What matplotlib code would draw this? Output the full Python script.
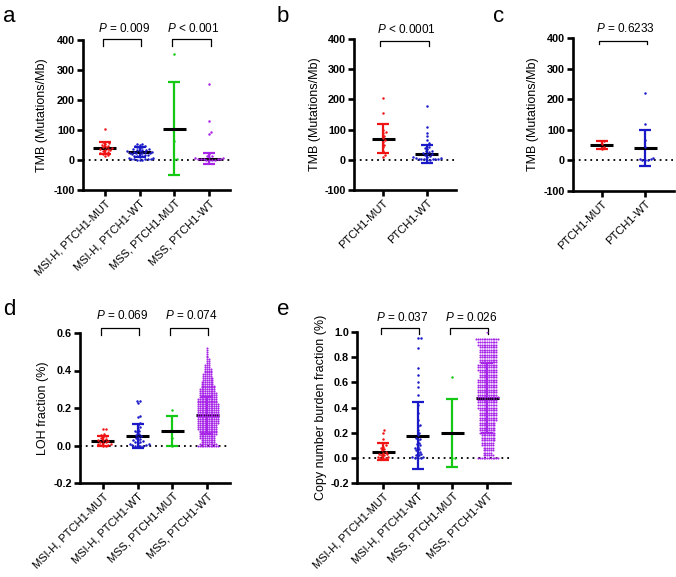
import numpy as np
import matplotlib
matplotlib.use("Agg")
import matplotlib.pyplot as plt
from matplotlib.transforms import blended_transform_factory

plt.rcParams['font.family'] = ['Liberation Sans', 'DejaVu Sans']
plt.rcParams['mathtext.fontset'] = 'custom'
plt.rcParams['mathtext.rm'] = 'Liberation Sans'
plt.rcParams['mathtext.it'] = 'Liberation Sans:italic'

RED, BLUE, GREEN, PURPLE = '#f01414', '#1a1ac8', '#14c814', '#a826e8'

groups4 = ["MSI-H, PTCH1-MUT", "MSI-H, PTCH1-WT", "MSS, PTCH1-MUT", "MSS, PTCH1-WT"]
groups2 = ["PTCH1-MUT", "PTCH1-WT"]

# ---- panel a : TMB by MSI status and PTCH1
a_msi_mut = [105, 60, 57, 55, 50, 48, 45, 42, 40, 38, 36, 35, 33, 30, 28, 25, 22, 20, 18, 15]
a_msi_wt = [55, 53, 50, 48, 46, 44, 42, 40, 38, 36, 35, 33, 32, 30, 30, 28, 27, 26, 25, 24,
            23, 22, 20, 20, 18, 17, 15, 14, 12, 10, 8, 6, 5, 4, 3, 2, 2, 1, 1, 0]
a_mss_mut = [352, 3, 2, 63]
a_mss_wt = [252, 130, 95, 88, 20, 15, 12, 10, 8, 6, 5, 4, 3, 2, 2, 1, 1, 0, 0]
a_mean = [39, 26, 105, 5]
a_sd = [20, 16, 155, 17]

# ---- panel b : TMB, all
b_mut = [203, 155, 100, 92, 88, 80, 72, 65, 58, 50, 42, 30, 15, 10]
b_wt = [178, 110, 90, 78, 65, 55, 48, 42, 38, 35, 30, 28, 25, 22, 20, 18, 15, 12, 10, 8,
        6, 5, 4, 3, 2, 2, 1, 1, 0, 0]
b_mean = [70, 18]
b_sd = [47, 30]

# ---- panel c : TMB, subgroup
c_mut = [62, 55, 45, 38]
c_wt = [220, 118, 68, 45, 8, 5, 3, 2, 1, 0]
c_mean = [51, 40]
c_sd = [13, 59]

# ---- panel d : LOH fraction
d_msi_mut = [0.09, 0.088, 0.06, 0.055, 0.05, 0.045, 0.04, 0.035, 0.03, 0.03, 0.025, 0.02,
             0.02, 0.015, 0.01, 0.01, 0.005, 0.005, 0.0, 0.0]
d_msi_wt = [0.24, 0.235, 0.225, 0.16, 0.15, 0.12, 0.11, 0.10, 0.09, 0.08, 0.075, 0.07, 0.06,
            0.055, 0.05, 0.045, 0.04, 0.035, 0.03, 0.03, 0.025, 0.02, 0.02, 0.015, 0.01,
            0.01, 0.005, 0.005, 0.0, 0.0, 0.0, 0.0]
d_mss_mut = [0.187, 0.0, 0.04]
# MSS, PTCH1-WT is a dense cloud: value levels and number of dots per level
d_mss_wt_levels = [0.00, 0.01, 0.02, 0.03, 0.04, 0.05, 0.06, 0.07, 0.08, 0.09, 0.10, 0.11,
                   0.12, 0.13, 0.14, 0.15, 0.16, 0.17, 0.18, 0.19, 0.20, 0.21, 0.22, 0.23,
                   0.24, 0.25, 0.26, 0.27, 0.28, 0.29, 0.30, 0.31, 0.32, 0.33, 0.34, 0.35,
                   0.36, 0.37, 0.38, 0.39, 0.40, 0.41, 0.42, 0.43, 0.44, 0.45, 0.46, 0.47,
                   0.48, 0.49, 0.50, 0.51, 0.52]
d_mss_wt_counts = [12, 10, 8, 8, 9, 9, 10, 10, 10, 11, 11, 11, 12, 12, 12, 12, 12, 12, 12, 12,
                   12, 12, 12, 11, 11, 11, 10, 10, 10, 9, 9, 8, 8, 7, 7, 6, 6, 5, 5, 4, 4, 4,
                   3, 3, 2, 2, 2, 1, 1, 1, 1, 1, 1]
d_mean = [0.025, 0.051, 0.077, 0.161]
d_sd = [0.025, 0.065, 0.081, 0.10]

# ---- panel e : copy number burden fraction
e_msi_mut = [0.22, 0.20, 0.15, 0.12, 0.10, 0.09, 0.08, 0.07, 0.06, 0.05, 0.04, 0.03, 0.03,
             0.02, 0.02, 0.01, 0.01, 0.0, 0.0, 0.0]
e_msi_wt = [0.95, 0.95, 0.87, 0.71, 0.66, 0.60, 0.56, 0.50, 0.42, 0.36, 0.30, 0.26, 0.25,
            0.22, 0.20, 0.18, 0.16, 0.15, 0.14, 0.12, 0.11, 0.10, 0.09, 0.08, 0.07, 0.06,
            0.05, 0.04, 0.03, 0.02, 0.02, 0.01, 0.01, 0.0, 0.0, 0.0]
e_mss_mut = [0.645, 0.0, 0.0]
e_mss_wt_levels = [0.00, 0.02, 0.04, 0.06, 0.08, 0.10, 0.12, 0.14, 0.16, 0.18, 0.20, 0.22,
                   0.24, 0.26, 0.28, 0.30, 0.32, 0.34, 0.36, 0.38, 0.40, 0.42, 0.44, 0.46,
                   0.48, 0.50, 0.52, 0.54, 0.56, 0.58, 0.60, 0.62, 0.64, 0.66, 0.68, 0.70,
                   0.72, 0.74, 0.76, 0.78, 0.80, 0.82, 0.84, 0.86, 0.88, 0.90, 0.92, 0.945,
                   1.00]
e_mss_wt_counts = [12, 6, 5, 6, 6, 7, 7, 8, 8, 8, 9, 9, 9, 9, 9, 10, 10, 10, 10, 10, 11, 11,
                   11, 11, 12, 11, 11, 11, 11, 11, 11, 11, 10, 10, 10, 11, 11, 11, 10, 10,
                   10, 10, 10, 10, 10, 11, 11, 13, 1]
e_mean = [0.05, 0.176, 0.2, 0.477]
e_sd = [0.067, 0.265, 0.27, 0.28]


def swarm(vals, sx, sy, d):
    # beeswarm offsets in pixel space, returned in category units
    ys = np.asarray(vals, float) * sy
    xs = np.zeros(len(ys))
    px, py = [], []
    for i in np.argsort(ys, kind='stable'):
        y = ys[i]
        near = [(x0, y0) for x0, y0 in zip(px, py) if abs(y0 - y) < d]
        cands = [0.0]
        for x0, y0 in near:
            off = np.sqrt(d * d - (y0 - y) ** 2)
            cands += [x0 + off, x0 - off]
        cands.sort(key=abs)
        for c in cands:
            if all((c - x0) ** 2 + (y - y0) ** 2 >= d * d - 1e-6 for x0, y0 in near):
                xs[i] = c
                break
        px.append(xs[i])
        py.append(y)
    return xs / sx


W, H = 676, 577
fig = plt.figure(figsize=(W / 100, H / 100), dpi=100)


def panel(rect_px, xlim, ylim, yticks, ytl, ylabel, ylab_x, cats, data, colors,
          means, sds, brackets, br_y):
    l, t, r, b = rect_px
    ax = fig.add_axes([l / W, 1 - b / H, (r - l) / W, (b - t) / H])
    ax.set_xlim(*xlim)
    ax.set_ylim(*ylim)
    sx = (r - l) / (xlim[1] - xlim[0])
    sy = (b - t) / (ylim[1] - ylim[0])
    ax.axhline(0, color='black', lw=1.3, ls=(0, (1, 2.2)), zorder=1)
    hw = 11.5 / sx
    for i, (vals, col) in enumerate(zip(data, colors)):
        dense = len(vals) > 100
        ax.errorbar(i, means[i], yerr=sds[i], color=col, lw=1.6, capsize=4.3,
                    capthick=1.6, zorder=2)
        ax.plot([i - hw, i + hw], [means[i]] * 2, color='black', lw=2.2,
                solid_capstyle='butt', zorder=3)
        off = swarm(vals, sx, sy, 1.8 if dense else 2.8)
        ax.scatter(i + off, vals, s=2.2 if dense else 3.2, color=col, lw=0, zorder=4)
    for s in ['top', 'right']:
        ax.spines[s].set_visible(False)
    for s in ['left', 'bottom']:
        ax.spines[s].set_linewidth(1.9)
    ax.tick_params(width=1.9, length=4.3, pad=1.5)
    ax.set_yticks(yticks)
    ax.set_yticklabels(ytl, fontsize=7.8, fontweight='bold')
    ax.set_xticks(range(len(cats)))
    ax.set_xticklabels(cats, rotation=45, ha='right', rotation_mode='anchor',
                       fontsize=8)
    ax.set_ylabel(ylabel, fontsize=9)
    ax.yaxis.set_label_coords((ylab_x - l) / (r - l), 0.5)
    tr = blended_transform_factory(ax.transData, ax.transAxes)
    top, leg, txt = br_y
    for i, j, ptxt in brackets:
        x0, x1 = i - 0.06, j + 0.04
        ax.plot([x0, x0, x1, x1], [leg, top, top, leg], color='black', lw=0.9,
                transform=tr, clip_on=False)
        ax.text((x0 + x1) / 2 + 0.05, txt, ptxt, transform=tr, ha='center',
                va='baseline', fontsize=8.5)
    return ax


tmb_ticks = [-100, 0, 100, 200, 300, 400]
tmb_tl = ['-100', '0', '100', '200', '300', '400']

panel((83, 40, 230, 190), (-0.63, 3.6), (-100, 400), tmb_ticks, tmb_tl,
      'TMB (Mutations/Mb)', 48, groups4,
      [a_msi_mut, a_msi_wt, a_mss_mut, a_mss_wt], [RED, BLUE, GREEN, PURPLE],
      a_mean, a_sd, [(0, 1, '$\\it{P}$ = 0.009'), (2, 3, '$\\it{P}$ < 0.001')],
      (1.007, 0.96, 1.053))

panel((354, 39, 456, 190), (-0.66, 1.66), (-100, 400), tmb_ticks, tmb_tl,
      'TMB (Mutations/Mb)', 321, groups2, [b_mut, b_wt], [RED, BLUE],
      b_mean, b_sd, [(0, 1, '$\\it{P}$ < 0.0001')], (0.987, 0.953, 1.04))

panel((573, 38, 674, 191), (-0.67, 1.67), (-100, 400), tmb_ticks, tmb_tl,
      'TMB (Mutations/Mb)', 539, groups2, [c_mut, c_wt], [RED, BLUE],
      c_mean, c_sd, [(0, 1, '$\\it{P}$ = 0.6233')], (0.98, 0.96, 1.04))

d_mss_wt = np.repeat(d_mss_wt_levels, d_mss_wt_counts)
panel((80, 333, 230, 483), (-0.66, 3.66), (-0.2, 0.6), [-0.2, 0.0, 0.2, 0.4, 0.6],
      ['-0.2', '0.0', '0.2', '0.4', '0.6'], 'LOH fraction (%)', 49, groups4,
      [d_msi_mut, d_msi_wt, d_mss_mut, d_mss_wt], [RED, BLUE, GREEN, PURPLE],
      d_mean, d_sd, [(0, 1, '$\\it{P}$ = 0.069'), (2, 3, '$\\it{P}$ = 0.074')],
      (1.033, 0.987, 1.093))

e_mss_wt = np.repeat(e_mss_wt_levels, e_mss_wt_counts)
panel((357, 332, 510, 483), (-0.75, 3.66), (-0.2, 1.0),
      [-0.2, 0.0, 0.2, 0.4, 0.6, 0.8, 1.0],
      ['-0.2', '0.0', '0.2', '0.4', '0.6', '0.8', '1.0'],
      'Copy number burden fraction (%)', 327, groups4,
      [e_msi_mut, e_msi_wt, e_mss_mut, e_mss_wt], [RED, BLUE, GREEN, PURPLE],
      e_mean, e_sd, [(0, 1, '$\\it{P}$ = 0.037'), (2, 3, '$\\it{P}$ = 0.026')],
      (1.027, 0.987, 1.073))

for lab, x, y in [('a', 3, 22), ('b', 277, 22), ('c', 493, 22), ('d', 3, 315), ('e', 277, 315)]:
    fig.text(x / W, 1 - y / H, lab, fontsize=16, va='baseline', ha='left')

fig.savefig('out.png', dpi=100)
